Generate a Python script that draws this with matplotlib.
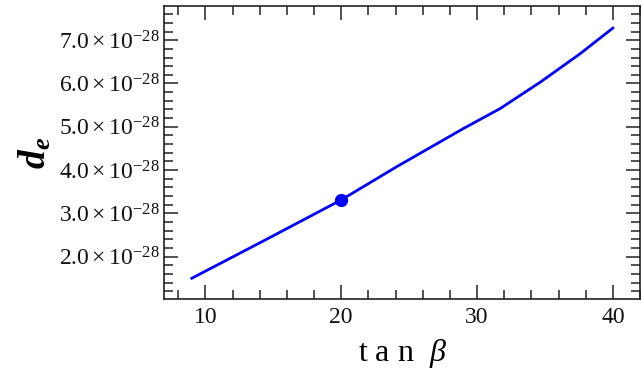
import matplotlib

matplotlib.use("Agg")
import matplotlib.pyplot as plt
from matplotlib.ticker import FixedLocator, FuncFormatter, MultipleLocator

plt.rcParams["font.family"] = ["Liberation Serif", "DejaVu Serif"]
plt.rcParams["mathtext.fontset"] = "custom"
plt.rcParams["mathtext.rm"] = "Liberation Serif"
plt.rcParams["mathtext.it"] = "Liberation Serif:italic"
plt.rcParams["mathtext.bf"] = "Liberation Serif:bold:italic"

# electron EDM versus tan(beta)
tan_beta = [9, 14.5, 20, 24.1, 29.0, 31.7, 34.7, 37.6, 40]
d_e = [1.50e-28, 2.40e-28, 3.31e-28, 4.08e-28, 4.96e-28,
       5.42e-28, 6.04e-28, 6.69e-28, 7.28e-28]

# benchmark point
bench_x = [20]
bench_y = [3.31e-28]

y_ticks = [2e-28, 3e-28, 4e-28, 5e-28, 6e-28, 7e-28]


def sci_label(v, pos):
    return rf"$\mathrm{{{v / 1e-28:.1f}}}\times\mathrm{{10}}^{{-28}}$"


fig = plt.figure(figsize=(6.42, 3.83), dpi=100)
ax = fig.add_axes([0.2555, 0.2193, 0.7414, 0.765])

ax.plot(tan_beta, d_e, color="#0000ff", lw=2.0)
ax.plot(bench_x, bench_y, "o", color="#0000ff", ms=8.5)

ax.set_xlim(6.95, 42.0)
ax.set_ylim(1.02e-28, 7.79e-28)

ax.xaxis.set_major_locator(MultipleLocator(10))
ax.xaxis.set_minor_locator(MultipleLocator(2))
ax.yaxis.set_major_locator(FixedLocator(y_ticks))
ax.yaxis.set_minor_locator(MultipleLocator(0.2e-28))
ax.yaxis.set_major_formatter(FuncFormatter(sci_label))

for side in ax.spines.values():
    side.set_color("#222222")
    side.set_linewidth(1.2)
ax.tick_params(which="both", direction="in", top=True, right=True,
               color="#222222", width=1.1, labelsize=17, labelcolor="#111111")
ax.tick_params(which="major", length=10)
ax.tick_params(which="minor", length=6.5)
ax.tick_params(axis="x", pad=6)
ax.tick_params(axis="y", pad=3)

ax.set_xlabel(r"t a n  $\beta$", fontsize=23, labelpad=6)
ax.set_ylabel(r"$\mathbf{d_e}$", fontsize=27, labelpad=4)

fig.savefig("out.png", dpi=100)
